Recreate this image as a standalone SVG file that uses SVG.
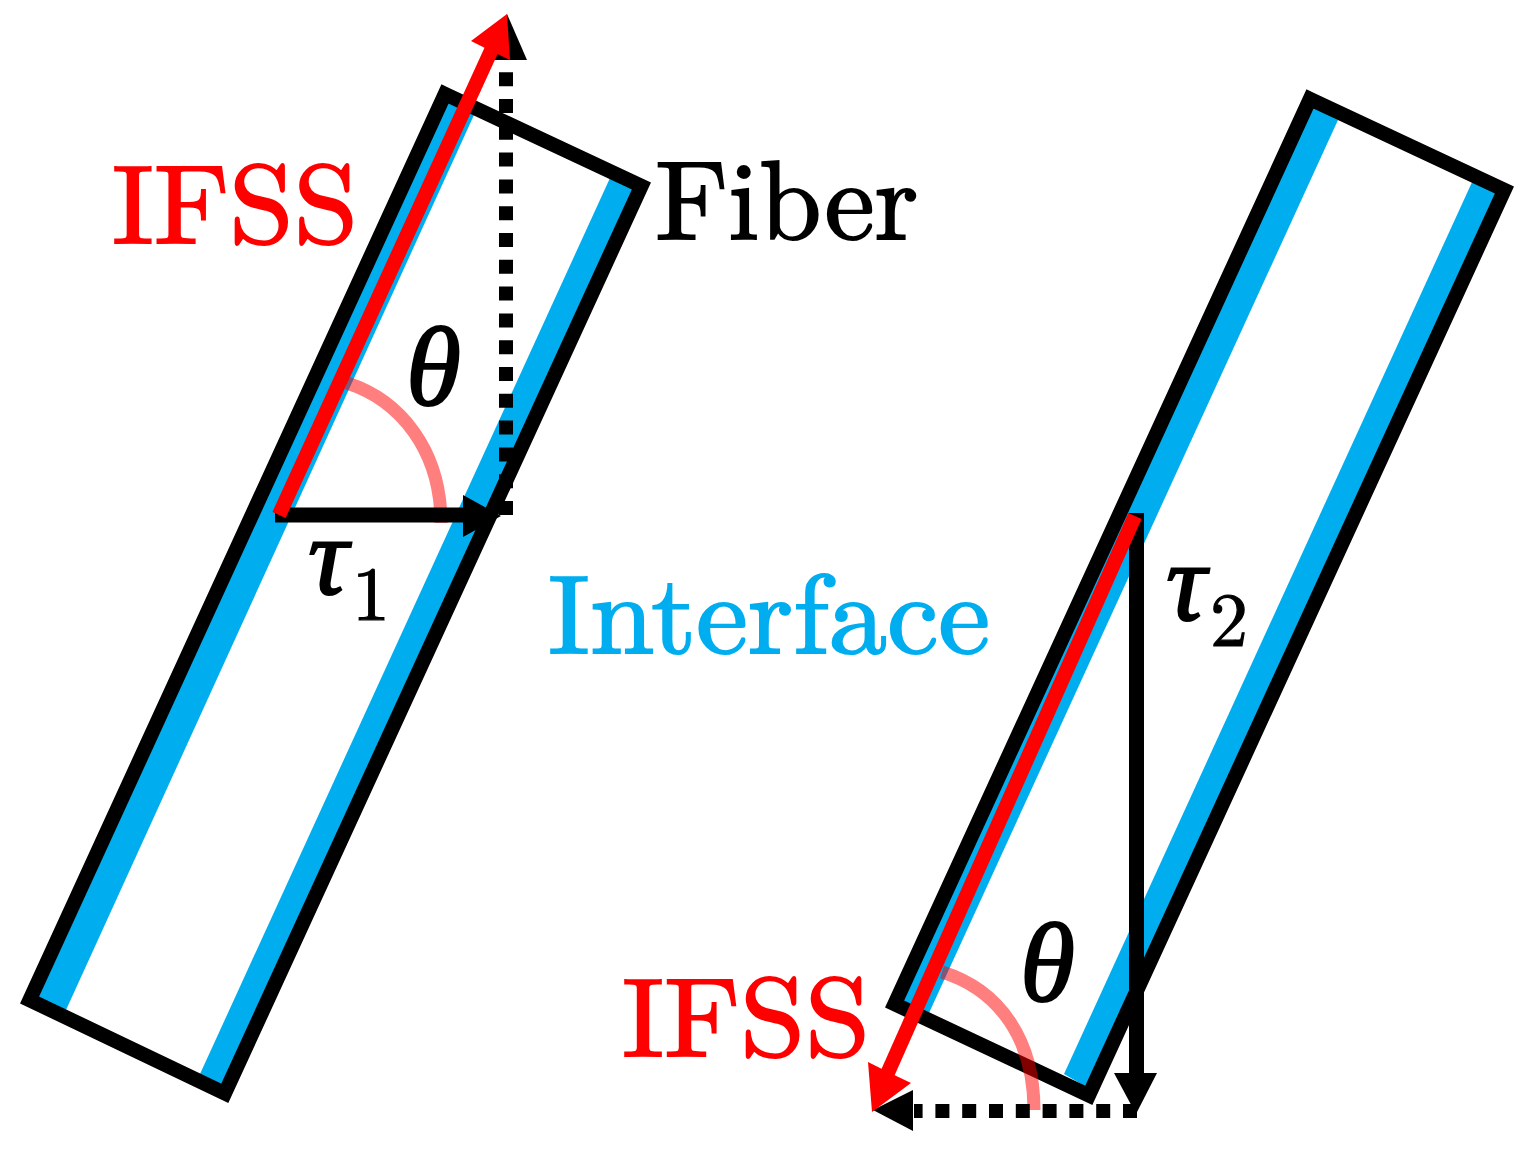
<svg xmlns="http://www.w3.org/2000/svg" width="1530" height="1160" viewBox="0 0 1530 1160">
<style>
.blue{fill:#00aeef;stroke:none}
.box{fill:none;stroke:#000;stroke-width:14.500;stroke-linejoin:miter}
.red{fill:none;stroke:#f00;stroke-width:14.500}
.arc{fill:none;stroke:#f00;stroke-opacity:.5;stroke-width:13}
.blk{fill:none;stroke:#000;stroke-width:15}
.dot{fill:none;stroke:#000;stroke-width:14;stroke-dasharray:14 12.8}
text{font-family:"Latin Modern Roman","Liberation Serif",serif}
.lab{font-size:112px;stroke-width:2}
.sub{font-size:76px;stroke:#000;stroke-width:1.200}
.it{font-style:italic}
</style>
<rect width="1530" height="1160" fill="#fff"/>
<g id="fiber-left">
<polygon class="blue" points="448,103 474,115 66,1010 38,998"/>
<polygon class="blue" points="610,178 635,190 225,1086 200,1074"/>
<path class="box" d="M445 94L641.400 186L224.800 1093.300L29.600 1000Z"/>
</g>
<g id="fiber-right">
<polygon class="blue" points="1312,106 1338,120 929,1013 902,1000"/>
<polygon class="blue" points="1473,180 1498,192 1088,1088 1064,1074"/>
<path class="box" d="M1310 99L1504.400 190L1088.800 1095.300L894.600 1004Z"/>
</g>
<g id="connectors">
<path class="arc" d="M347 383C400 400 441 450 441 523"/>
<path class="arc" d="M942 972C1000 990 1034 1040 1034 1110"/>
<path class="dot" d="M506 515V62"/>
<path d="M487 60L507 14L527 60Z" fill="#000"/>
<path class="blk" d="M275 515H480"/>
<path d="M463 495L501 516L463 537Z" fill="#000"/>
<path class="red" d="M279 515L496 40"/>
<path d="M507 14L471 41L489 50L510 60Z" fill="#f00"/>
<path class="blk" d="M1136.500 513V1085"/>
<path d="M1114 1073H1157L1136 1114Z" fill="#000"/>
<path class="dot" d="M1137 1111H914"/>
<path d="M913 1090L873 1110L913 1131Z" fill="#000"/>
<path class="red" d="M1135 516L881 1088"/>
<path d="M872 1112L868 1062L890 1073L911 1083Z" fill="#f00"/>
</g>
<g id="labels">
<text class="lab" x="112" y="243" fill="#f00" stroke="#f00" textLength="246" lengthAdjust="spacingAndGlyphs">IFSS</text>
<text class="lab" x="655" y="239" fill="#000" stroke="#000">Fiber</text>
<text class="lab" x="548" y="653" fill="#00aeef" stroke="#00aeef" textLength="442" lengthAdjust="spacingAndGlyphs">Interface</text>
<text class="lab" x="622" y="1056" fill="#f00" stroke="#f00" textLength="248" lengthAdjust="spacingAndGlyphs">IFSS</text>
<text class="lab it" x="406" y="405" fill="#000" stroke="#000">θ</text>
<text class="lab it" x="1020" y="1001" fill="#000" stroke="#000">θ</text>
<text class="lab it" x="308" y="594" fill="#000" stroke="#000">τ</text>
<text class="sub" x="352" y="620" fill="#000">1</text>
<text class="lab it" x="1166" y="620" fill="#000" stroke="#000">τ</text>
<text class="sub" x="1210" y="646" fill="#000">2</text>
</g>
</svg>
